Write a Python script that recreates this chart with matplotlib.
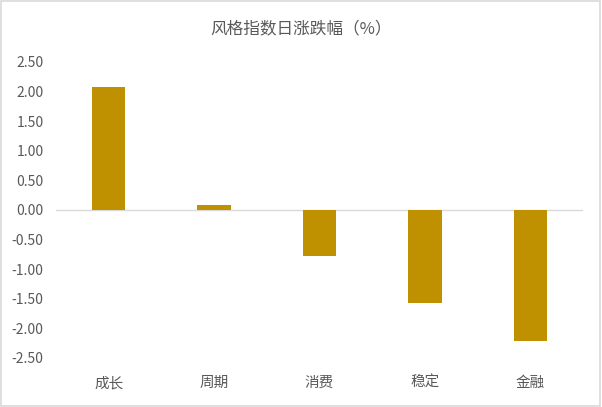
import matplotlib.pyplot as plt
from matplotlib.patches import Rectangle

plt.rcParams['font.family'] = ['Noto Sans CJK SC', 'DejaVu Sans']

categories = ['成长', '周期', '消费', '稳定', '金融']
changes = [2.08, 0.09, -0.78, -1.57, -2.21]
yticks = [2.5, 2.0, 1.5, 1.0, 0.5, 0.0, -0.5, -1.0, -1.5, -2.0, -2.5]

text_color = '#595959'

fig = plt.figure(figsize=(6.02, 4.07), dpi=100)
ax = fig.add_axes([0.093, 0.1204, 0.8754, 0.7273])

ax.bar(range(len(categories)), changes, width=0.318, color='#bf9000')
ax.axhline(0, color='#d9d9d9', linewidth=1, zorder=0)

ax.set_xlim(-0.5, len(categories) - 0.5)
ax.set_ylim(-2.5, 2.5)
ax.set_yticks(yticks)
ax.set_yticklabels([f'{v:.2f}' for v in yticks], color=text_color, fontsize=10)
ax.set_xticks(range(len(categories)))
ax.set_xticklabels(categories, color=text_color, fontsize=10.5)
ax.tick_params(axis='both', length=0)
ax.tick_params(axis='x', pad=13)
ax.tick_params(axis='y', pad=9)
for s in ax.spines.values():
    s.set_visible(False)

fig.text(0.5, 0.93, '风格指数日涨跌幅（%）', ha='center', va='center',
         color=text_color, fontsize=12)

# light border round the chart area
fig.patches.append(Rectangle((0.002, 0.003), 0.995, 0.994, transform=fig.transFigure,
                             fill=False, edgecolor='#d9d9d9', linewidth=1.2))

fig.savefig('out.png', dpi=100)
